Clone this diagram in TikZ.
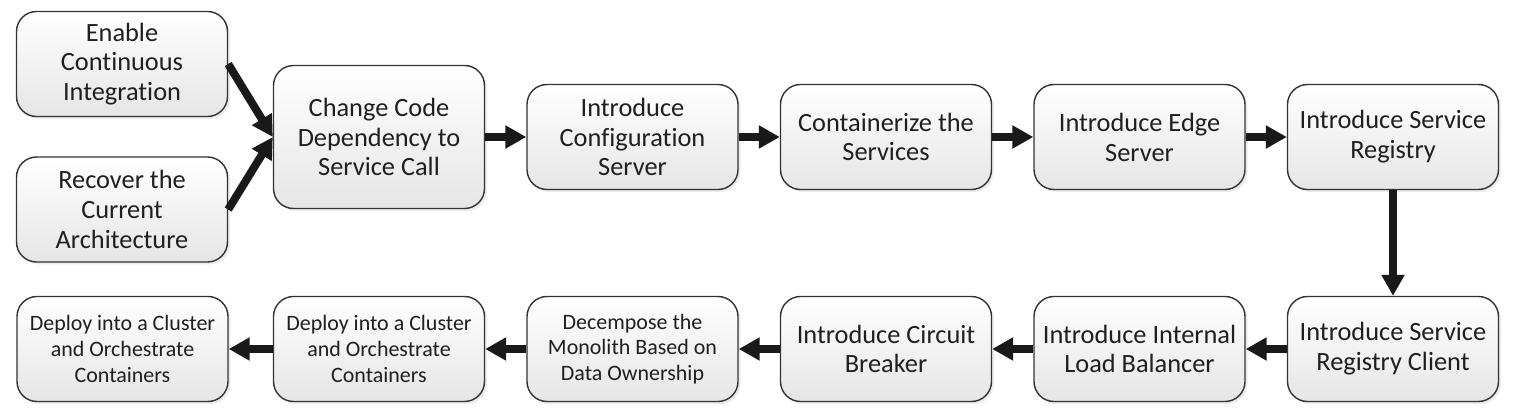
\documentclass[tikz,border=0pt]{standalone}
\usepackage{fontspec}
\setmainfont{Carlito}[Ligatures=NoCommon]
\usetikzlibrary{positioning,arrows.meta,shadows}

\begin{document}
\begin{tikzpicture}[
    box/.style={draw=black!80, line width=0.8pt, rounded corners=0.4cm,
      top color=white, bottom color=black!10, text=black!88,
      minimum width=4.22cm, minimum height=2.1cm, align=center,
      font=\fontsize{15}{17}\selectfont,
      drop shadow={shadow xshift=0.05cm, shadow yshift=-0.05cm, opacity=0.15}},
    smalltext/.style={font=\fontsize{12.5}{14.7}\selectfont},
    arr/.style={-{Triangle[length=0.42cm,width=0.44cm]}, line width=0.16cm, black!90},
    node distance=5.07cm]
      \useasboundingbox (0,0) rectangle (30.42,-8.4);

      \node[box] (1) at (2.44,-1.28) {Enable\\Continuous\\Integration};
      \node[box,below of=1,node distance=2.91cm] (2) {Recover the\\Current\\Architecture};
      \node[box,minimum height=2.86cm] (3) at (7.58,-2.74) {Change Code\\Dependency to\\Service Call};
      \node[box,right of=3] (4) {Introduce\\Configuration\\Server};
      \node[box,right of=4] (5) {Containerize the\\Services};
      \node[box,right of=5] (6) {Introduce Edge\\Server};
      \node[box,right of=6] (7) {Introduce Service\\Registry};
      \node[box,below of=7,node distance=4.24cm] (8) {Introduce Service\\Registry Client};
      \node[box,left of=8] (9) {Introduce Internal\\Load Balancer};
      \node[box,left of=9] (10) {Introduce Circuit\\Breaker};
      \node[box,smalltext,left of=10] (11) {Decempose the\\Monolith Based on\\Data Ownership};
      \node[box,smalltext,left of=11] (12) {Deploy into a Cluster\\and Orchestrate\\Containers};
      \node[box,smalltext,left of=12,xshift=-0.06cm] (13) {Deploy into a Cluster\\and Orchestrate\\Containers};

      \draw[arr] (1.east) -- (3.west);
      \draw[arr] (2.east) -- (3.west);
      \draw[arr] (3) -- (4);
      \draw[arr] (4) -- (5);
      \draw[arr] (5) -- (6);
      \draw[arr] (6) -- (7);
      \draw[arr] (7) -- (8);
      \draw[arr] (8) -- (9);
      \draw[arr] (9) -- (10);
      \draw[arr] (10) -- (11);
      \draw[arr] (11) -- (12);
      \draw[arr] (12) -- (13);
    \end{tikzpicture}
\end{document}
